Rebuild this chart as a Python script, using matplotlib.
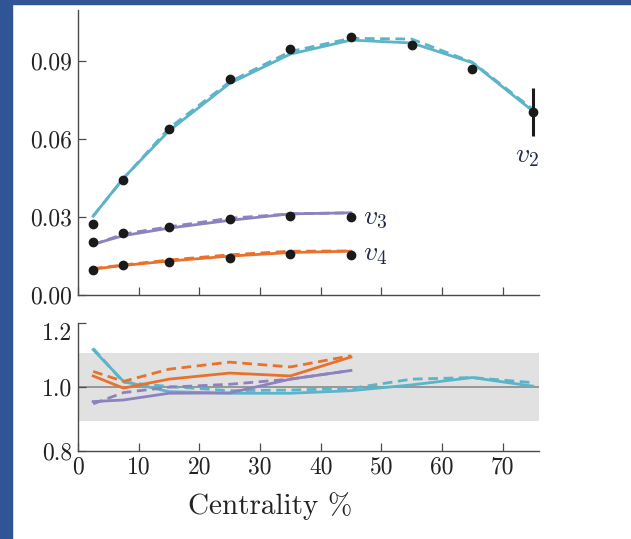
import matplotlib
matplotlib.use("Agg")
import matplotlib.pyplot as plt
from matplotlib.patches import Rectangle

plt.rcParams["font.family"] = "cmr10"
plt.rcParams["mathtext.fontset"] = "cm"
plt.rcParams["axes.formatter.use_mathtext"] = True

# centrality bins (%)
cent = [2.5, 7.5, 15, 25, 35, 45, 55, 65, 75]
cent6 = cent[:6]

# measured flow harmonics
v2_data = [0.0270, 0.0441, 0.0640, 0.0830, 0.0946, 0.0993, 0.0962, 0.0871, 0.0705]
v2_err = [0.0004, 0.0004, 0.0004, 0.0004, 0.0004, 0.0004, 0.0005, 0.0006, 0.0093]
v3_data = [0.0203, 0.0237, 0.0261, 0.0292, 0.0304, 0.0300]
v4_data = [0.0095, 0.0112, 0.0126, 0.0142, 0.0157, 0.0153]

# model curves (solid / dashed)
v2_solid = [0.0302, 0.0449, 0.0631, 0.0814, 0.0927, 0.0981, 0.0970, 0.0894, 0.0707]
v2_dash = [0.0303, 0.0447, 0.0641, 0.0820, 0.0937, 0.0988, 0.0985, 0.0896, 0.0714]
v3_solid = [0.0194, 0.0227, 0.0256, 0.0286, 0.0311, 0.0315]
v3_dash = [0.0192, 0.0233, 0.0261, 0.0294, 0.0311, 0.0315]
v4_solid = [0.0098, 0.0112, 0.0129, 0.0148, 0.0162, 0.0167]
v4_dash = [0.0100, 0.0114, 0.0133, 0.0153, 0.0167, 0.0168]

# model / data ratios
r2_solid = [1.116, 1.017, 0.985, 0.980, 0.980, 0.988, 1.006, 1.029, 1.002]
r2_dash = [1.120, 1.014, 1.001, 0.988, 0.990, 0.995, 1.024, 1.029, 1.013]
r3_solid = [0.954, 0.959, 0.980, 0.981, 1.024, 1.051]
r3_dash = [0.947, 0.982, 0.999, 1.008, 1.024, 1.051]
r4_solid = [1.034, 0.996, 1.024, 1.043, 1.034, 1.093]
r4_dash = [1.048, 1.017, 1.055, 1.077, 1.062, 1.097]

band = (0.895, 1.105)

c2 = "#5bb4c9"
c3 = "#8b82bf"
c4 = "#e8722c"
lw = 2.0
dash = (3.5, 2.0)
spine_col = "#4a4a4a"
txt_col = "#222222"

fig = plt.figure(figsize=(6.31, 5.39), dpi=100)

# slide frame on the left and top
fig.patches.append(Rectangle((0, 0), 12 / 631, 1, transform=fig.transFigure,
                             color="#2f5597", zorder=10))
fig.patches.append(Rectangle((0, 1 - 4 / 539), 1, 4 / 539, transform=fig.transFigure,
                             color="#2f5597", zorder=10))

ax1 = fig.add_axes([0.1236, 0.4536, 0.7306, 0.5278])
ax2 = fig.add_axes([0.1236, 0.1633, 0.7306, 0.2380])

for ax in (ax1, ax2):
    for s in ("top", "right"):
        ax.spines[s].set_visible(False)
    for s in ("left", "bottom"):
        ax.spines[s].set_color(spine_col)
        ax.spines[s].set_linewidth(1.0)
    ax.tick_params(direction="in", length=6, width=0.9, color=spine_col,
                   labelsize=17, labelcolor=txt_col, pad=4)
    ax.set_xlim(0, 76)
    ax.set_xticks([0, 10, 20, 30, 40, 50, 60, 70])

# top panel: flow harmonics
ax1.plot(cent, v2_solid, color=c2, lw=lw)
ax1.plot(cent, v2_dash, color=c2, lw=lw, dashes=dash)
ax1.plot(cent6, v3_solid, color=c3, lw=lw)
ax1.plot(cent6, v3_dash, color=c3, lw=lw, dashes=dash)
ax1.plot(cent6, v4_solid, color=c4, lw=lw)
ax1.plot(cent6, v4_dash, color=c4, lw=lw, dashes=dash)
ax1.errorbar(cent, v2_data, yerr=v2_err, fmt="o", color="#1a1a1a", ms=6,
             elinewidth=2.2, capsize=0, zorder=5)
ax1.plot(cent6, v3_data, "o", color="#1a1a1a", ms=6, zorder=5)
ax1.plot(cent6, v4_data, "o", color="#1a1a1a", ms=6, zorder=5)

ax1.set_ylim(0, 0.1097)
ax1.set_yticks([0.0, 0.03, 0.06, 0.09])
ax1.set_yticklabels(["0.00", "0.03", "0.06", "0.09"])
ax1.set_xticklabels([])

ax1.text(74.1, 0.0535, r"$v_2$", fontsize=20, ha="center", va="center", color="#1f2a44")
ax1.text(47.0, 0.0297, r"$v_3$", fontsize=20, ha="left", va="center", color="#1f2a44")
ax1.text(47.0, 0.0155, r"$v_4$", fontsize=20, ha="left", va="center", color="#1f2a44")

# bottom panel: ratios
ax2.axhspan(band[0], band[1], color="#e1e1e1", lw=0, zorder=0)
ax2.axhline(1.0, color="#8a8a8a", lw=1.2, zorder=1)
ax2.plot(cent, r2_solid, color=c2, lw=lw)
ax2.plot(cent, r2_dash, color=c2, lw=lw, dashes=dash)
ax2.plot(cent6, r3_solid, color=c3, lw=lw)
ax2.plot(cent6, r3_dash, color=c3, lw=lw, dashes=dash)
ax2.plot(cent6, r4_solid, color=c4, lw=lw)
ax2.plot(cent6, r4_dash, color=c4, lw=lw, dashes=dash)

ax2.set_ylim(0.8, 1.2)
ax2.set_yticks([0.8, 1.0, 1.2])
ylabels = ax2.set_yticklabels(["0.8", "1.0", "1.2"])
# keep "1.2" clear of the "0.00" label above it
ylabels[-1].set_va("top")
ax2.set_xticklabels(["0", "10", "20", "30", "40", "50", "60", "70"])

fig.text(270 / 631, 0.061, "Centrality %", fontsize=21, ha="center", va="center",
         color=txt_col)

fig.savefig("out.png", dpi=100)
